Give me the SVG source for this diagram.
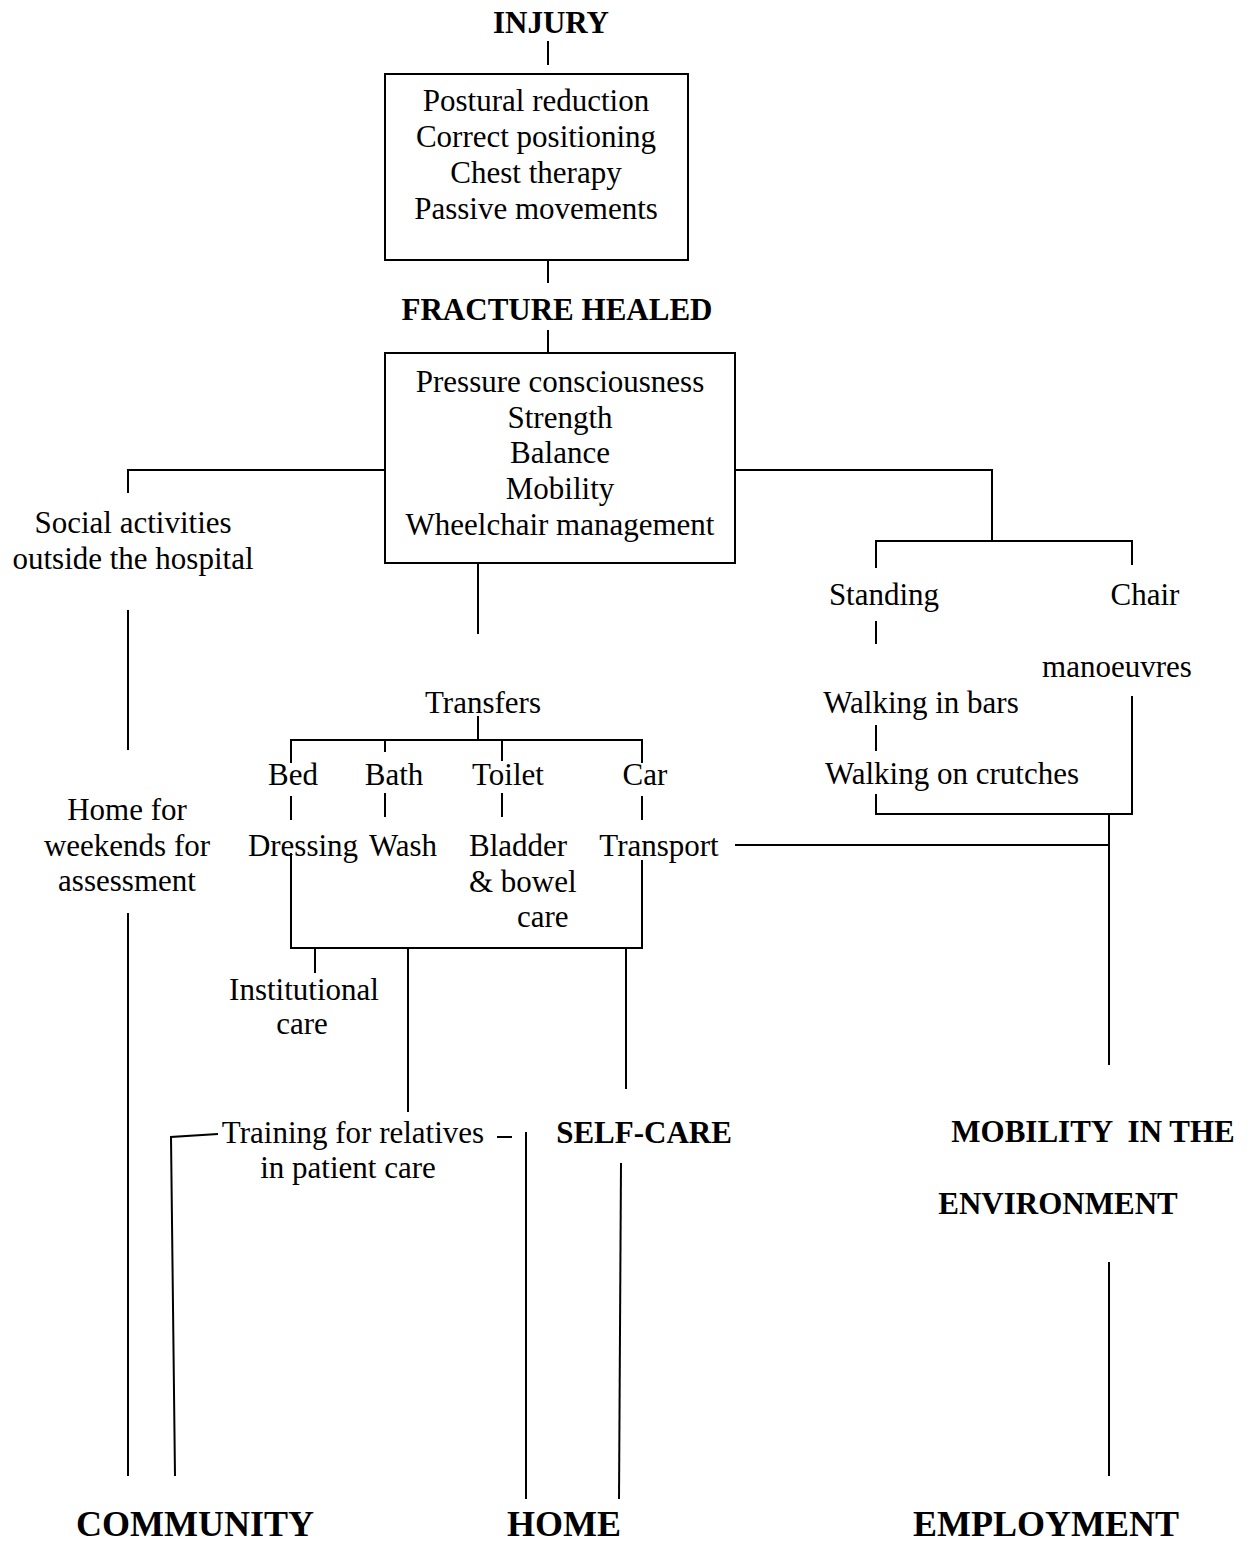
<svg xmlns="http://www.w3.org/2000/svg" width="1252" height="1544" viewBox="0 0 1252 1544">
<style>
text{font-family:"Liberation Serif","Times New Roman",serif;font-size:31px;fill:#000;text-anchor:middle;white-space:pre}
.b{font-weight:bold}
.big{font-weight:bold;font-size:36px}
.s{text-anchor:start}
.box{fill:#fff;stroke:#000;stroke-width:2}
#connectors path,#connectors line{fill:none;stroke:#000;stroke-width:2}
</style>
<rect width="1252" height="1544" fill="#fff"/>
<g id="connectors">
<line x1="548" y1="41" x2="548" y2="65"/>
<line x1="548" y1="260" x2="548" y2="283"/>
<line x1="548" y1="330" x2="548" y2="353"/>
<path d="M385,470 H128 V493"/>
<line x1="128" y1="610" x2="128" y2="750"/>
<line x1="128" y1="913" x2="128" y2="1476"/>
<path d="M735,470 H992 V541"/>
<path d="M876,568 V541 H1132 V565"/>
<line x1="876" y1="621" x2="876" y2="644"/>
<line x1="876" y1="725" x2="876" y2="751"/>
<path d="M876,794 V814 H1132 V696"/>
<line x1="1109" y1="814" x2="1109" y2="1065"/>
<line x1="735" y1="845" x2="1109" y2="845"/>
<line x1="478" y1="563" x2="478" y2="634"/>
<line x1="478" y1="716" x2="478" y2="740"/>
<path d="M291,763 V740 H642 V763"/>
<line x1="385" y1="740" x2="385" y2="752"/>
<line x1="502" y1="740" x2="502" y2="761"/>
<line x1="291" y1="796" x2="291" y2="820"/>
<line x1="385" y1="793" x2="385" y2="817"/>
<line x1="502" y1="793" x2="502" y2="817"/>
<line x1="642" y1="796" x2="642" y2="820"/>
<path d="M291,853 V948 H642 V860"/>
<line x1="315" y1="948" x2="315" y2="973"/>
<line x1="408" y1="948" x2="408" y2="1112"/>
<line x1="626" y1="948" x2="626" y2="1089"/>
<path d="M218,1134 L171,1137 L175,1476"/>
<line x1="497" y1="1137" x2="512" y2="1137"/>
<line x1="526" y1="1132" x2="526" y2="1499"/>
<line x1="621" y1="1163" x2="619" y2="1499"/>
<line x1="1109" y1="1262" x2="1109" y2="1476"/>
</g>
<g id="injury"><text class="b" x="551" y="33">INJURY</text></g>
<g id="acute">
<rect class="box" x="385" y="74" width="303" height="186"/>
<text x="536" y="111">Postural reduction</text>
<text x="536" y="147">Correct positioning</text>
<text x="536" y="183">Chest therapy</text>
<text x="536" y="219">Passive movements</text>
</g>
<g id="fracture-healed"><text class="b" x="557" y="320">FRACTURE HEALED</text></g>
<g id="rehab">
<rect class="box" x="385" y="353" width="350" height="210"/>
<text x="560" y="392">Pressure consciousness</text>
<text x="560" y="428">Strength</text>
<text x="560" y="463">Balance</text>
<text x="560" y="499">Mobility</text>
<text x="560" y="535">Wheelchair management</text>
</g>
<g id="social"><text x="133" y="533">Social activities</text><text x="133" y="569">outside the hospital</text></g>
<g id="home-weekends"><text x="127" y="820">Home for</text><text x="127" y="856">weekends for</text><text x="127" y="891">assessment</text></g>
<g id="transfers"><text x="483" y="713">Transfers</text></g>
<g id="bed"><text x="293" y="785">Bed</text></g>
<g id="bath"><text x="394" y="785">Bath</text></g>
<g id="toilet"><text x="508" y="785">Toilet</text></g>
<g id="car"><text x="645" y="785">Car</text></g>
<g id="dressing"><text x="303" y="856">Dressing</text></g>
<g id="wash"><text x="403" y="856">Wash</text></g>
<g id="bladder"><text class="s" x="469" y="856">Bladder</text><text class="s" x="469" y="892">&amp; bowel</text><text class="s" x="517" y="927">care</text></g>
<g id="transport"><text x="659" y="856">Transport</text></g>
<g id="institutional"><text x="304" y="1000">Institutional</text><text x="302" y="1034">care</text></g>
<g id="training"><text x="353" y="1143">Training for relatives</text><text x="348" y="1178">in patient care</text></g>
<g id="self-care"><text class="b" x="644" y="1143">SELF-CARE</text></g>
<g id="standing"><text x="884" y="605">Standing</text></g>
<g id="chair"><text x="1145" y="605">Chair</text><text x="1117" y="677">manoeuvres</text></g>
<g id="walking-bars"><text x="921" y="713">Walking in bars</text></g>
<g id="walking-crutches"><text x="952" y="784">Walking on crutches</text></g>
<g id="mobility-env"><text class="b" x="1093" y="1142">MOBILITY  IN THE</text><text class="b" x="1058" y="1214">ENVIRONMENT</text></g>
<g id="community"><text class="big" x="195" y="1536">COMMUNITY</text></g>
<g id="home"><text class="big" x="564" y="1536">HOME</text></g>
<g id="employment"><text class="big" x="1046" y="1536">EMPLOYMENT</text></g>
</svg>
